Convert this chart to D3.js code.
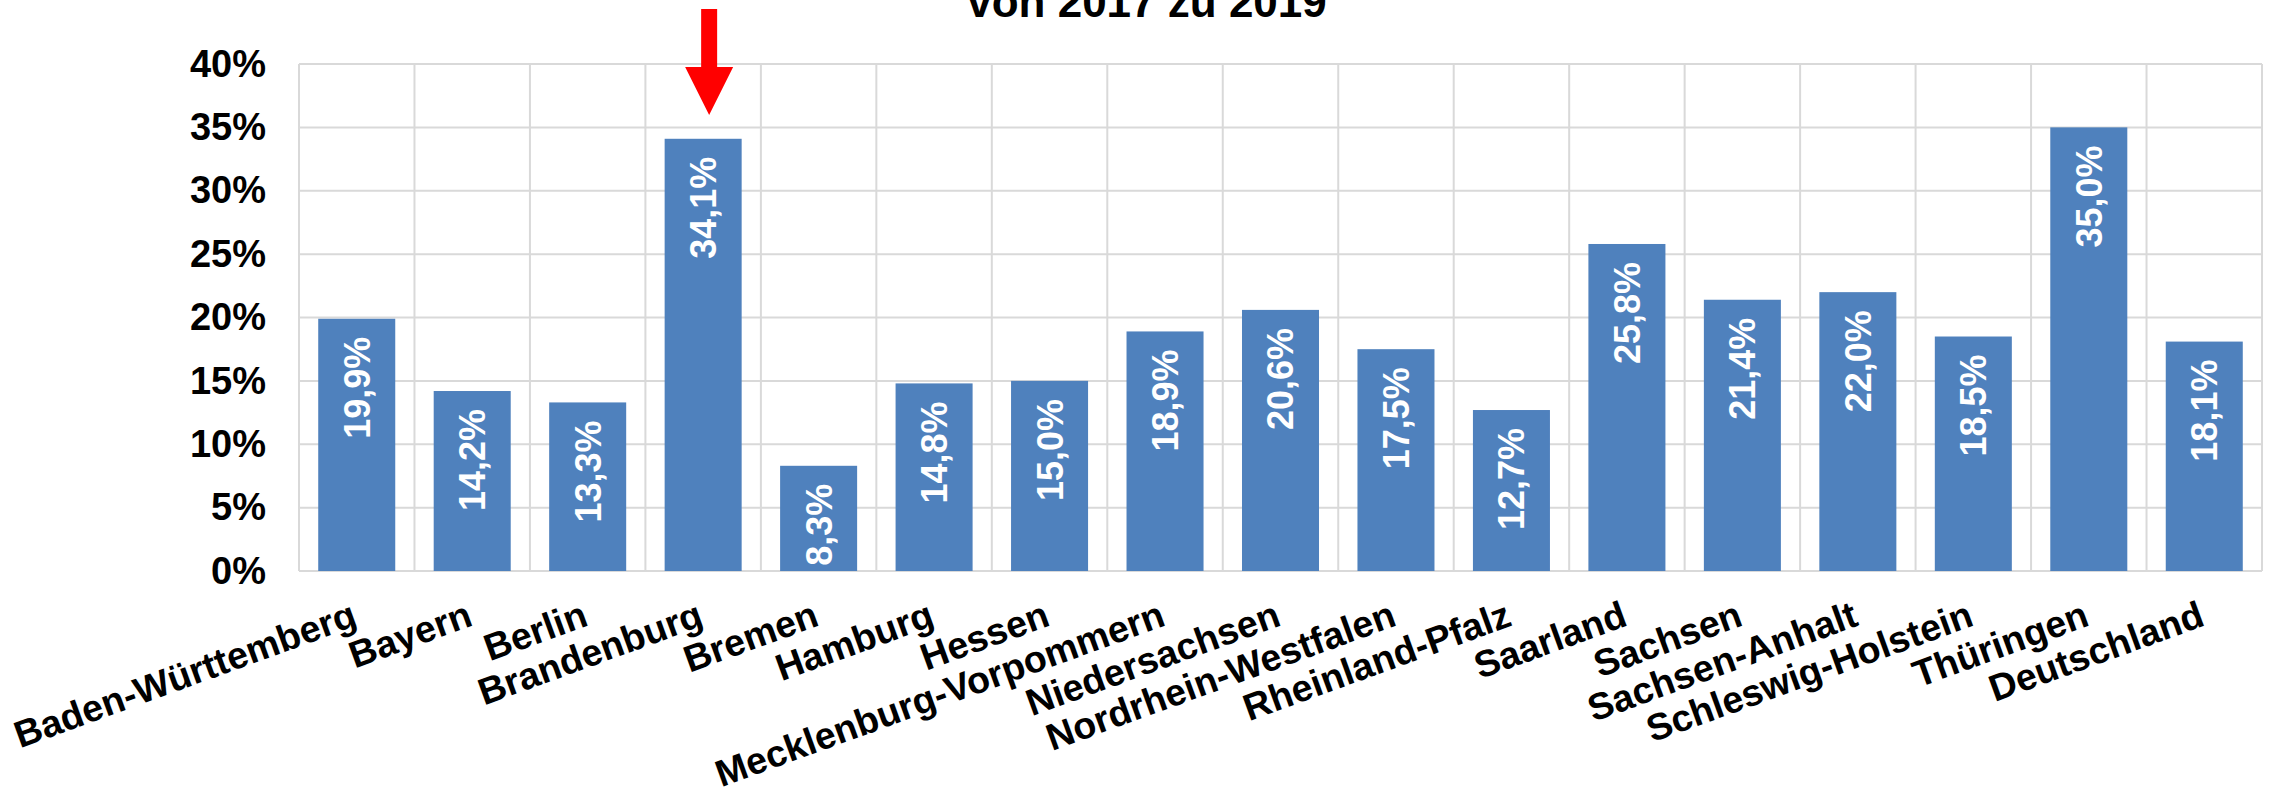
<!DOCTYPE html>
<html>
<head>
<meta charset="utf-8">
<script src="https://cdn.jsdelivr.net/npm/d3@7"></script>
<style>
  body { margin: 0; background: #fff; }
  svg { display: block; }
  text { font-family: "Liberation Sans", Arial, sans-serif; font-weight: bold; }
</style>
</head>
<body>
<div id="chart"></div>
<script>
// categories + values
const categories = ["Baden-Württemberg", "Bayern", "Berlin", "Brandenburg", "Bremen", "Hamburg",
    "Hessen", "Mecklenburg-Vorpommern", "Niedersachsen", "Nordrhein-Westfalen", "Rheinland-Pfalz",
    "Saarland", "Sachsen", "Sachsen-Anhalt", "Schleswig-Holstein", "Thüringen", "Deutschland"];
const values = [19.9, 14.2, 13.3, 34.1, 8.3, 14.8, 15.0, 18.9, 20.6, 17.5, 12.7, 25.8, 21.4, 22.0, 18.5, 35.0, 18.1];
const yTicks = [0, 5, 10, 15, 20, 25, 30, 35, 40];
const titleText = "von 2017 zu 2019";
const highlighted = "Brandenburg";

const width = 2272;
const height = 791;
const plot = { left: 299, right: 2262, top: 64, bottom: 571 };

const svg = d3.select("#chart")
    .append("svg")
    .attr("width", width)
    .attr("height", height);

const x = d3.scaleBand()
    .domain(categories)
    .range([plot.left, plot.right])
    .paddingInner(0.333)
    .paddingOuter(0.1665);

const y = d3.scaleLinear()
    .domain([0, 40])
    .range([plot.bottom, plot.top]);

const fmt = v => v.toFixed(1).replace(".", ",") + "%";

// gridlines
const step = x.step();
svg.append("g")
    .selectAll("line")
    .data(yTicks)
    .enter()
    .append("line")
    .attr("x1", plot.left)
    .attr("x2", plot.right)
    .attr("y1", d => y(d))
    .attr("y2", d => y(d))
    .attr("stroke", "#d9d9d9")
    .attr("stroke-width", 2);

svg.append("g")
    .selectAll("line")
    .data(d3.range(categories.length + 1))
    .enter()
    .append("line")
    .attr("x1", i => plot.left + i * step)
    .attr("x2", i => plot.left + i * step)
    .attr("y1", plot.top)
    .attr("y2", plot.bottom)
    .attr("stroke", "#d9d9d9")
    .attr("stroke-width", 2);

// bars
svg.append("g")
    .selectAll("rect")
    .data(values)
    .enter()
    .append("rect")
    .attr("x", (d, i) => x(categories[i]))
    .attr("y", d => y(d))
    .attr("width", x.bandwidth())
    .attr("height", d => y(0) - y(d))
    .attr("fill", "#4f81bd");

// value labels inside bars
svg.append("g")
    .selectAll("text")
    .data(values)
    .enter()
    .append("text")
    .attr("transform", (d, i) => `translate(${x(categories[i]) + x.bandwidth() / 2},${y(d) + 18}) rotate(-90)`)
    .attr("text-anchor", "end")
    .attr("dy", "0.36em")
    .attr("fill", "#fff")
    .attr("font-size", "36px")
    .text(d => fmt(d));

// y axis
const yAxis = svg.append("g")
    .attr("transform", `translate(${plot.left},0)`)
    .call(d3.axisLeft(y).tickValues(yTicks).tickFormat(d => d + "%").tickSize(0).tickPadding(33));
yAxis.select(".domain").remove();
yAxis.selectAll("text")
    .attr("font-size", "38px")
    .attr("font-family", "'Liberation Sans', Arial, sans-serif")
    .attr("fill", "#000");

// x axis
const xAxis = svg.append("g")
    .attr("transform", `translate(0,${plot.bottom})`)
    .call(d3.axisBottom(x).tickSize(0));
xAxis.select(".domain").remove();
xAxis.selectAll("text")
    .attr("x", 0)
    .attr("y", 0)
    .attr("dy", 0)
    .attr("text-anchor", "end")
    .attr("transform", "translate(2,54) rotate(-20)")
    .attr("font-size", "37.5px")
    .attr("font-family", "'Liberation Sans', Arial, sans-serif")
    .attr("fill", "#000");

// title (first line is cut off above the page)
svg.append("text")
    .attr("x", 1147)
    .attr("y", 17)
    .attr("text-anchor", "middle")
    .attr("font-size", "44px")
    .text(titleText);

// red arrow over the highlighted bar
const ax = x(highlighted) + x.bandwidth() / 2 + 6;
const arrow = d3.path();
arrow.moveTo(ax - 8, 9);
arrow.lineTo(ax + 8, 9);
arrow.lineTo(ax + 8, 67);
arrow.lineTo(ax + 24, 67);
arrow.lineTo(ax, 115);
arrow.lineTo(ax - 24, 67);
arrow.lineTo(ax - 8, 67);
arrow.closePath();
svg.append("path")
    .attr("d", arrow.toString())
    .attr("fill", "#ff0000");
</script>
</body>
</html>
